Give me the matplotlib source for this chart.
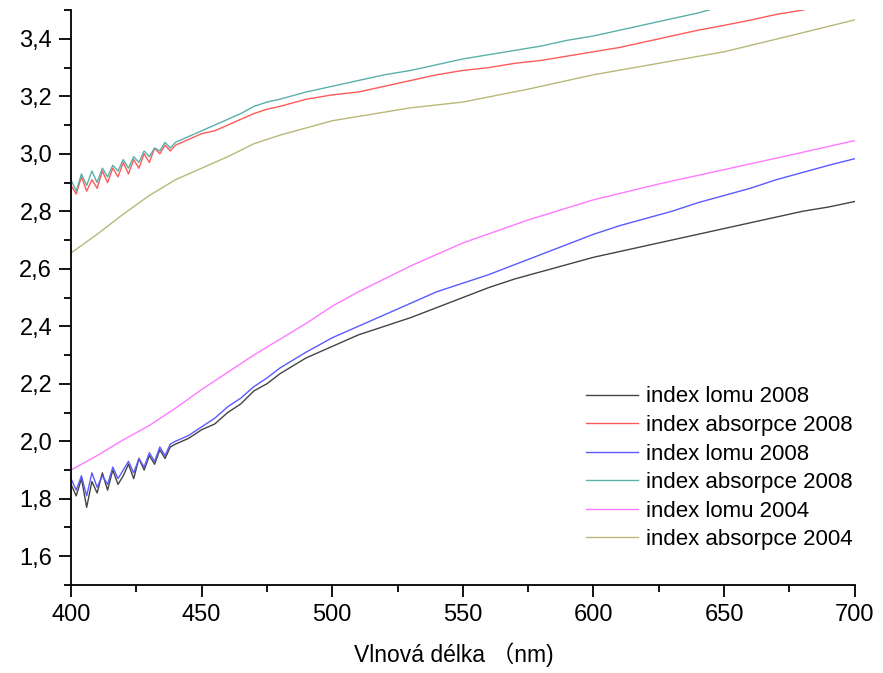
import matplotlib
matplotlib.use("Agg")
import matplotlib.pyplot as plt
from matplotlib.ticker import MultipleLocator, FuncFormatter

plt.rcParams['font.family'] = ['Liberation Sans', 'Noto Sans CJK SC', 'DejaVu Sans']

wl_noisy = [400, 402, 404, 406, 408, 410, 412, 414, 416, 418, 420, 422, 424, 426, 428,
            430, 432, 434, 436, 438, 440, 445, 450, 455, 460, 465, 470, 475, 480, 490, 500,
            510, 520, 530, 540, 550, 560, 570, 580, 590, 600, 610, 620, 630, 640, 650, 660,
            670, 680, 690, 700]

lomu_2008_a = [1.85, 1.81, 1.87, 1.77, 1.86, 1.82, 1.89, 1.83, 1.90, 1.85, 1.88, 1.92, 1.87, 1.94, 1.90,
               1.95, 1.92, 1.97, 1.94, 1.98, 1.99, 2.01, 2.04, 2.06, 2.10, 2.13, 2.175, 2.20, 2.235, 2.29, 2.33,
               2.37, 2.40, 2.43, 2.465, 2.50, 2.535, 2.565, 2.59, 2.615, 2.64, 2.66, 2.68, 2.70, 2.72, 2.74, 2.76,
               2.78, 2.80, 2.815, 2.834]

absorpce_2008_a = [2.89, 2.86, 2.92, 2.87, 2.91, 2.88, 2.94, 2.90, 2.95, 2.92, 2.97, 2.93, 2.98, 2.95, 3.00,
                   2.97, 3.02, 3.00, 3.03, 3.01, 3.03, 3.05, 3.07, 3.08, 3.10, 3.12, 3.14, 3.155, 3.165, 3.19, 3.205,
                   3.215, 3.235, 3.255, 3.275, 3.29, 3.30, 3.315, 3.325, 3.34, 3.355, 3.37, 3.39, 3.41, 3.43, 3.447, 3.465,
                   3.485, 3.50, 3.52, 3.54]

lomu_2008_b = [1.87, 1.83, 1.88, 1.81, 1.89, 1.84, 1.88, 1.85, 1.91, 1.87, 1.90, 1.93, 1.89, 1.94, 1.91,
               1.96, 1.93, 1.98, 1.95, 1.99, 2.00, 2.02, 2.05, 2.08, 2.12, 2.15, 2.19, 2.22, 2.255, 2.31, 2.36,
               2.40, 2.44, 2.48, 2.52, 2.55, 2.58, 2.615, 2.65, 2.685, 2.72, 2.75, 2.775, 2.80, 2.83, 2.855, 2.88,
               2.91, 2.935, 2.96, 2.983]

absorpce_2008_b = [2.91, 2.87, 2.93, 2.89, 2.94, 2.90, 2.95, 2.92, 2.96, 2.94, 2.98, 2.95, 2.99, 2.97, 3.01,
                   2.99, 3.02, 3.01, 3.04, 3.02, 3.04, 3.06, 3.08, 3.10, 3.12, 3.14, 3.165, 3.18, 3.19, 3.215, 3.235,
                   3.255, 3.275, 3.29, 3.31, 3.33, 3.345, 3.36, 3.375, 3.395, 3.41, 3.43, 3.45, 3.47, 3.49, 3.515, 3.535,
                   3.555, 3.58, 3.60, 3.62]

wl_smooth = [400, 410, 420, 430, 440, 450, 460, 470, 480, 490, 500, 510, 520, 530, 540, 550,
             575, 600, 625, 650, 675, 700]

lomu_2004 = [1.90, 1.95, 2.005, 2.055, 2.115, 2.18, 2.24, 2.30, 2.355, 2.41, 2.47, 2.52, 2.565, 2.61, 2.65, 2.69,
             2.77, 2.84, 2.895, 2.945, 2.995, 3.046]

absorpce_2004 = [2.655, 2.72, 2.79, 2.855, 2.91, 2.95, 2.99, 3.035, 3.065, 3.09, 3.115, 3.13, 3.145, 3.16, 3.17, 3.18,
                 3.225, 3.275, 3.315, 3.355, 3.41, 3.466]

labels = ["index lomu 2008", "index absorpce 2008", "index lomu 2008",
          "index absorpce 2008", "index lomu 2004", "index absorpce 2004"]
colors = ["#444444", "#ff5a5a", "#5a5aff", "#5ab0aa", "#ff7aff", "#b8b878"]

fig = plt.figure(figsize=(8.83, 6.73), dpi=100)
ax = fig.add_axes([0.0804, 0.1308, 0.8876, 0.8542])

series = [(wl_noisy, lomu_2008_a), (wl_noisy, absorpce_2008_a), (wl_noisy, lomu_2008_b),
          (wl_noisy, absorpce_2008_b), (wl_smooth, lomu_2004), (wl_smooth, absorpce_2004)]
for (x, y), lab, c in zip(series, labels, colors):
    ax.plot(x, y, color=c, lw=1.0, label=lab)

ax.set_xlim(400, 700)
ax.set_ylim(1.5, 3.5)
ax.xaxis.set_major_locator(MultipleLocator(50))
ax.xaxis.set_minor_locator(MultipleLocator(25))
ax.yaxis.set_major_locator(MultipleLocator(0.2))
ax.yaxis.set_minor_locator(MultipleLocator(0.1))
ax.yaxis.set_major_formatter(FuncFormatter(lambda v, p: f"{v:.1f}".replace(".", ",")))
for s in ["top", "right"]:
    ax.spines[s].set_visible(False)
for s in ["left", "bottom"]:
    ax.spines[s].set_linewidth(1.3)
ax.tick_params(which="major", direction="out", length=8.5, width=1.3, labelsize=17, pad=5)
ax.tick_params(which="minor", direction="out", length=5, width=1.3)
ax.set_xlabel("Vlnová délka （nm)", fontsize=16.5)
ax.xaxis.set_label_coords(0.488, -0.1)

leg = ax.legend(loc="lower right", bbox_to_anchor=(1.008, 0.045), frameon=False, fontsize=16,
                handlelength=2.35, handletextpad=0.35, labelspacing=0.34, borderaxespad=0)

fig.savefig("out.png", dpi=100)
